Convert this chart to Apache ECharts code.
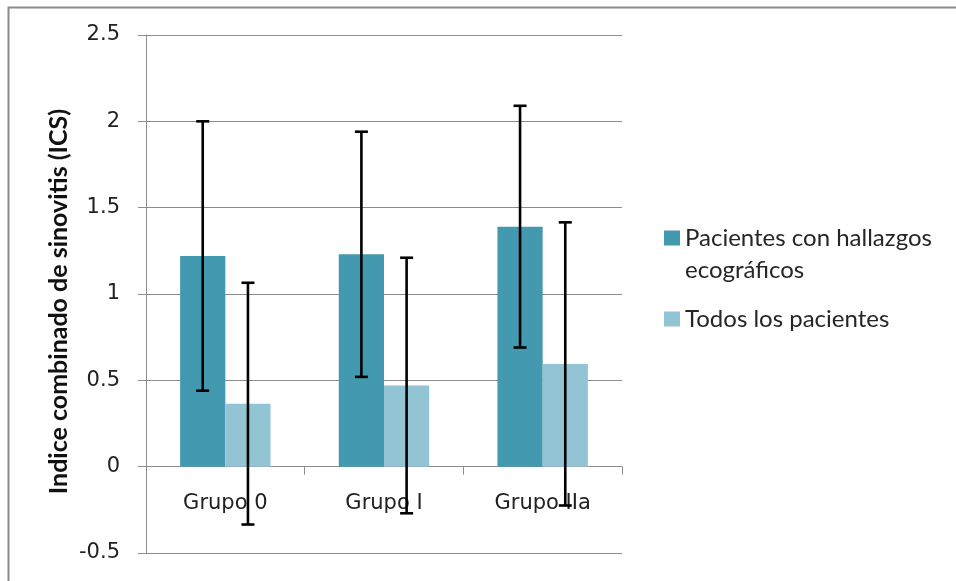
<!DOCTYPE html>
<html>
<head>
<meta charset="utf-8">
<script src="https://cdn.jsdelivr.net/npm/echarts@6/dist/echarts.min.js"></script>
<style>
html,body{margin:0;padding:0;background:#fff;}
#chart{width:956px;height:581px;}
</style>
</head>
<body>
<div id="chart"></div>
<script>
// ---- data ----
var categories = ['Grupo 0', 'Grupo I', 'Grupo IIa'];
var seriesNames = ['Pacientes con hallazgos ecográficos', 'Todos los pacientes'];
var meansHallazgos = [1.22, 1.23, 1.39];
var sdHallazgos = [0.78, 0.71, 0.70];
var meansTodos = [0.365, 0.47, 0.595];
var sdTodos = [0.70, 0.74, 0.82];
var yTicks = { min: -0.5, max: 2.5, interval: 0.5 };

var colors = ['#4399AF', '#93C4D4'];
var GAP = 0.43;
var W = 956, H = 581;
var gridTop = 35, gridBottom = 28;
var gridHeight = H - gridTop - gridBottom;
// move category axis to the zero line of the value axis
var zeroOffset = -gridHeight * (0 - yTicks.min) / (yTicks.max - yTicks.min);

function errData(means, sds) {
  return means.map(function (m, i) { return [i, m - sds[i], m + sds[i]]; });
}

function makeErrRender(side) {
  return function (params, api) {
    var xi = api.value(0);
    var lo = api.coord([xi, api.value(1)]);
    var hi = api.coord([xi, api.value(2)]);
    var band = api.size([1, 0])[0];
    var w = band * (1 - GAP) / 2;
    var x = lo[0] + side * w / 2;
    var cap = 6.5;
    var style = { stroke: '#000', lineWidth: 2.6, fill: null };
    return {
      type: 'group',
      children: [
        { type: 'line', shape: { x1: x, y1: hi[1], x2: x, y2: lo[1] }, style: style },
        { type: 'line', shape: { x1: x - cap, y1: hi[1], x2: x + cap, y2: hi[1] }, style: style },
        { type: 'line', shape: { x1: x - cap, y1: lo[1], x2: x + cap, y2: lo[1] }, style: style }
      ]
    };
  };
}

var chart = echarts.init(document.getElementById('chart'), null, { renderer: 'canvas' });
var gridColor = '#8c8c8c';
chart.setOption({
  backgroundColor: '#fff',
  animation: false,
  graphic: [{
    type: 'rect', left: 6, top: 5, silent: true,
    shape: { width: 1000, height: 700 },
    style: { fill: null, stroke: '#8a8a8a', lineWidth: 2 }
  }],
  grid: { left: 146, right: 334, top: gridTop, bottom: gridBottom, containLabel: false, outerBoundsMode: 'none' },
  legend: [{
    data: [seriesNames[0]],
    left: 664, top: 190, padding: 0,
    itemWidth: 16, itemHeight: 15,
    icon: 'rect',
    formatter: function () { return '\nPacientes con hallazgos\necográficos'; },
    textStyle: { fontFamily: 'Lato', fontSize: 24, color: '#262626', lineHeight: 32 }
  }, {
    data: [seriesNames[1]],
    left: 664, top: 303, padding: 0,
    itemWidth: 16, itemHeight: 15,
    icon: 'rect',
    textStyle: { fontFamily: 'Lato', fontSize: 24, color: '#262626', lineHeight: 32 }
  }],
  xAxis: {
    type: 'category',
    data: categories,
    offset: zeroOffset,
    axisLine: { onZero: false, lineStyle: { color: gridColor, width: 1 } },
    axisTick: { show: true, length: 8, lineStyle: { color: gridColor } },
    axisLabel: { fontFamily: 'DejaVu Sans', fontSize: 21, color: '#222', margin: 26 }
  },
  yAxis: {
    type: 'value',
    min: yTicks.min, max: yTicks.max, interval: yTicks.interval,
    name: 'Indice combinado de sinovitis (ICS)',
    nameLocation: 'middle',
    nameGap: 75,
    nameTextStyle: { fontFamily: 'Lato', fontWeight: 'bold', fontSize: 25, color: '#111', padding: [0, 15, 0, 0] },
    axisLine: { show: true, lineStyle: { color: gridColor, width: 1 } },
    axisTick: { show: true, length: 8, lineStyle: { color: gridColor } },
    splitLine: { lineStyle: { color: gridColor, width: 1 } },
    axisLabel: { fontFamily: 'DejaVu Sans', fontSize: 21, color: '#222', margin: 26 }
  },
  series: [{
    name: seriesNames[0], type: 'bar', data: meansHallazgos,
    itemStyle: { color: colors[0] }, barGap: '0%', barCategoryGap: (GAP * 100) + '%'
  }, {
    name: seriesNames[1], type: 'bar', data: meansTodos,
    itemStyle: { color: colors[1] }, barGap: '0%', barCategoryGap: (GAP * 100) + '%'
  }, {
    type: 'custom', name: 'err1', data: errData(meansHallazgos, sdHallazgos),
    renderItem: makeErrRender(-1), encode: { x: 0, y: [1, 2] }, z: 10, silent: true
  }, {
    type: 'custom', name: 'err2', data: errData(meansTodos, sdTodos),
    renderItem: makeErrRender(1), encode: { x: 0, y: [1, 2] }, z: 10, silent: true
  }]
});
</script>
</body>
</html>
